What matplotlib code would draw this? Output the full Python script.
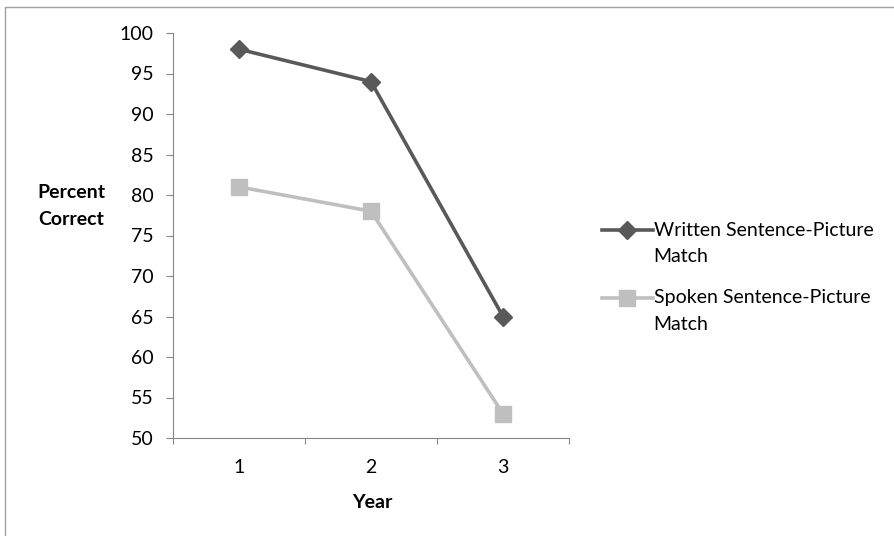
import matplotlib.pyplot as plt
from matplotlib.patches import Rectangle
from matplotlib.legend_handler import HandlerLine2D

years = [1, 2, 3]
written = [98, 94, 65]
spoken = [81, 78, 53]
year_labels = ['1', '2', '3']
y_ticks = [50, 55, 60, 65, 70, 75, 80, 85, 90, 95, 100]

plt.rcParams['font.family'] = ['Lato', 'DejaVu Sans']
fs = 14


class TopLineHandler(HandlerLine2D):
    # put the legend sample level with the first line of a two-line label
    def create_artists(self, legend, orig_handle, xdescent, ydescent,
                       width, height, fontsize, trans):
        return super().create_artists(legend, orig_handle, xdescent,
                                      ydescent - 2 * 9.7, width, height,
                                      fontsize, trans)


fig = plt.figure(figsize=(8.95, 5.36), dpi=100)
# outer chart frame, only its left and top edges fall inside the image
fig.patches.append(Rectangle((5 / 895, -0.1), 1.2, 1.1 - 7 / 536,
                             transform=fig.transFigure, fill=False,
                             edgecolor='#a0a0a0', linewidth=1))
ax = fig.add_axes([173 / 895, 1 - 438 / 536, 396 / 895, 405 / 536])

l1, = ax.plot(years, written, color='#595959', lw=2.6, marker='D', ms=8.7,
              label='Written Sentence-Picture\nMatch')
l2, = ax.plot(years, spoken, color='#bfbfbf', lw=2.6, marker='s', ms=12,
              label='Spoken Sentence-Picture\nMatch')

ax.set_xlim(0.5, 3.5)
ax.set_ylim(50, 100)
ax.set_yticks(y_ticks)
ax.set_xticks([0.5, 1.5, 2.5, 3.5])
ax.set_xticklabels([])
ax.set_xticks(years, minor=True)
ax.set_xticklabels(year_labels, minor=True)
ax.tick_params(axis='x', which='major', length=4.5, color='#868686')
ax.tick_params(axis='x', which='minor', length=0, pad=15, labelsize=fs)
ax.tick_params(axis='y', length=5, color='#868686', labelsize=fs, pad=9)

for side in ['top', 'right']:
    ax.spines[side].set_visible(False)
for side in ['left', 'bottom']:
    ax.spines[side].set_color('#868686')

fig.text(71 / 895, 1 - 206 / 536, 'Percent\nCorrect', ha='center', va='center',
         fontsize=fs, fontweight='bold', linespacing=1.65)
fig.text(372 / 895, 1 - 503 / 536, 'Year', ha='center', va='center',
         fontsize=fs, fontweight='bold')

leg = fig.legend(handles=[l1, l2], loc='upper left',
                 bbox_to_anchor=(602 / 895, 1 - 222 / 536),
                 handler_map={l1: TopLineHandler(), l2: TopLineHandler()},
                 frameon=False, fontsize=fs, handlelength=2.6, handletextpad=0.05,
                 labelspacing=1.25, borderpad=0, borderaxespad=0)
for t in leg.get_texts():
    t.set_linespacing(1.65)

fig.savefig('out.png', dpi=100)
